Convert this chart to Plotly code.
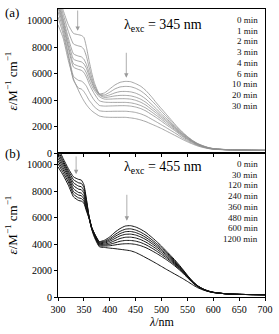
import plotly.graph_objects as go
from plotly.subplots import make_subplots

# wavelengths (nm)
WL = [300, 310, 320, 330, 340, 345, 350, 355, 360, 365, 370, 380, 390, 400, 410, 420, 430, 440, 450, 460, 470,
      480, 490, 500, 510, 520, 530, 540, 550, 560, 570, 580, 590, 600, 625, 650, 675, 700]

# panel (a): irradiation at 345 nm
A_LABELS = ["0 min", "1 min", "2 min", "3 min", "4 min", "6 min", "10 min", "20 min", "30 min"]
A0 = [12000, 10800, 9700, 9050, 8950, 8900, 8750, 8000, 7000, 6100, 5350, 4480, 4550, 4850, 5150, 5350, 5420, 5400, 5250, 5050, 4720,
      4290, 3800, 3350, 2900, 2450, 2000, 1600, 1250, 950, 720, 550, 420, 340, 260, 230, 210, 200]
A1 = [11800, 10500, 9200, 8250, 8100, 8050, 7850, 7300, 6500, 5750, 5150, 4450, 4400, 4600, 4850, 5000, 5040, 5020, 4900, 4700, 4400,
      4000, 3600, 3150, 2750, 2320, 1920, 1550, 1220, 930, 700, 540, 410, 330, 260, 230, 210, 200]
A2 = [11600, 10200, 8700, 7500, 7330, 7280, 7100, 6700, 6100, 5500, 5000, 4420, 4300, 4400, 4550, 4650, 4660, 4630, 4530, 4350, 4080,
      3720, 3350, 2950, 2600, 2200, 1840, 1480, 1180, 900, 680, 520, 400, 320, 250, 225, 210, 200]
A3 = [11400, 10000, 8400, 7100, 6950, 6900, 6750, 6400, 5850, 5350, 4900, 4380, 4200, 4250, 4320, 4360, 4360, 4330, 4230, 4070, 3830,
      3500, 3170, 2800, 2480, 2120, 1780, 1430, 1140, 880, 660, 510, 390, 320, 250, 225, 210, 200]
A4 = [11200, 9800, 8100, 6750, 6570, 6520, 6400, 6050, 5550, 5100, 4750, 4250, 4080, 4080, 4100, 4110, 4110, 4080, 3990, 3840, 3620,
      3320, 3020, 2680, 2380, 2050, 1720, 1380, 1100, 860, 650, 500, 390, 310, 250, 225, 210, 200]
A5 = [11000, 9600, 7900, 6500, 6320, 6260, 6100, 5750, 5250, 4850, 4500, 3950, 3850, 3830, 3830, 3830, 3830, 3800, 3720, 3590, 3400,
      3130, 2850, 2550, 2250, 1950, 1650, 1320, 1060, 830, 630, 490, 380, 310, 250, 225, 210, 200]
A6 = [10700, 9300, 7500, 5800, 5490, 5450, 5300, 5050, 4650, 4300, 4000, 3600, 3550, 3560, 3570, 3580, 3580, 3550, 3480, 3360, 3180,
      2930, 2680, 2400, 2120, 1850, 1570, 1260, 1010, 800, 610, 480, 370, 300, 250, 225, 210, 200]
A7 = [10300, 9000, 7300, 5500, 4900, 4850, 4650, 4350, 4000, 3750, 3500, 3200, 3150, 3150, 3160, 3160, 3160, 3130, 3070, 2960, 2800,
      2580, 2360, 2130, 1900, 1660, 1420, 1150, 930, 740, 570, 450, 350, 290, 240, 220, 210, 200]
A8 = [9700, 8700, 7000, 5600, 4700, 4300, 3950, 3650, 3400, 3200, 3050, 2800, 2720, 2700, 2700, 2700, 2700, 2660, 2600, 2500, 2370,
      2200, 2030, 1850, 1650, 1450, 1250, 1040, 850, 680, 530, 420, 340, 290, 240, 220, 210, 210]
A_SERIES = [A0, A1, A2, A3, A4, A5, A6, A7, A8]

# panel (b): irradiation at 455 nm
B_LABELS = ["0 min", "30 min", "120 min", "240 min", "360 min", "480 min", "600 min", "1200 min"]
B0 = [11300, 10480, 9720, 9090, 8900, 8850, 8500, 7400, 6100, 5300, 4850, 4200, 4300, 4550, 4900, 5180, 5370, 5400, 5300, 5120, 4880,
      4560, 4220, 3850, 3450, 3050, 2620, 2150, 1650, 1200, 850, 620, 460, 360, 240, 200, 180, 170]
B1 = [11100, 10300, 9550, 8880, 8640, 8600, 8300, 7300, 6080, 5280, 4830, 4150, 4220, 4420, 4720, 4970, 5130, 5160, 5070, 4900, 4670,
      4380, 4060, 3720, 3350, 2960, 2550, 2100, 1620, 1180, 840, 610, 460, 360, 240, 200, 180, 170]
B2 = [10900, 10150, 9400, 8650, 8390, 8350, 8050, 7150, 6060, 5260, 4800, 4100, 4150, 4320, 4580, 4800, 4940, 4960, 4880, 4720, 4500,
      4230, 3930, 3600, 3250, 2880, 2490, 2060, 1590, 1160, 830, 610, 450, 350, 240, 200, 180, 170]
B3 = [10700, 9980, 9250, 8430, 8160, 8120, 7850, 7000, 6040, 5240, 4770, 4050, 4080, 4220, 4430, 4630, 4740, 4760, 4690, 4540, 4340,
      4080, 3800, 3490, 3160, 2800, 2420, 2010, 1560, 1140, 820, 600, 450, 350, 240, 200, 180, 170]
B4 = [10500, 9800, 9080, 8200, 7910, 7870, 7620, 6850, 6020, 5220, 4730, 4000, 4000, 4100, 4270, 4430, 4520, 4530, 4470, 4340, 4150,
      3910, 3650, 3360, 3050, 2720, 2360, 1960, 1530, 1120, 800, 590, 440, 350, 240, 200, 180, 170]
B5 = [10300, 9620, 8900, 7980, 7710, 7670, 7420, 6700, 6000, 5200, 4690, 3950, 3930, 3990, 4100, 4220, 4280, 4280, 4230, 4120, 3950,
      3730, 3490, 3220, 2940, 2630, 2290, 1910, 1500, 1100, 790, 580, 440, 350, 240, 200, 180, 170]
B6 = [10100, 9420, 8700, 7780, 7500, 7460, 7250, 6600, 5980, 5180, 4650, 3880, 3860, 3880, 3940, 4000, 4030, 4030, 3980, 3880, 3730,
      3530, 3310, 3070, 2810, 2530, 2210, 1860, 1470, 1080, 780, 570, 430, 340, 240, 200, 180, 170]
B7 = [9850, 9220, 8460, 7580, 7300, 7260, 7100, 6500, 5950, 5150, 4550, 3800, 3750, 3700, 3660, 3610, 3560, 3500, 3370, 3180, 2970,
      2760, 2540, 2310, 2080, 1860, 1640, 1420, 1180, 930, 700, 540, 420, 340, 240, 200, 180, 170]
B_SERIES = [B0, B1, B2, B3, B4, B5, B6, B7]

# arrows: (x, y_tail, y_head) per panel
ARROWS_A = [(338, 10900, 9250), (432, 7700, 5700)]
ARROWS_B = [(335, 10750, 9300), (433, 7850, 5770)]

EXC_A = "345"
EXC_B = "455"
Y_TICKS = [0, 2000, 4000, 6000, 8000, 10000]
X_TICKS = [300, 350, 400, 450, 500, 550, 600, 650, 700]

FONT = "Liberation Serif"
W, H = 279, 334
ML, MR, MT, MB = 58, 14, 9, 37
PW, PH = W - ML - MR, H - MT - MB

fig = make_subplots(rows=2, cols=1, shared_xaxes=True, vertical_spacing=0)

for s in A_SERIES:
    fig.add_trace(go.Scatter(x=WL, y=s, mode="lines", line=dict(color="#8f8f8f", width=0.8, shape="spline", smoothing=0.5),
                             showlegend=False, hoverinfo="skip"), row=1, col=1)
for s in B_SERIES:
    fig.add_trace(go.Scatter(x=WL, y=s, mode="lines", line=dict(color="#111111", width=1.0, shape="spline", smoothing=0.5),
                             showlegend=False, hoverinfo="skip"), row=2, col=1)

annotations = []
for (xa, yt, yh) in ARROWS_A:
    annotations.append(dict(x=xa, y=yh, ax=xa, ay=yt, xref="x", yref="y", axref="x", ayref="y",
                            showarrow=True, arrowhead=2, arrowsize=1.1, arrowwidth=0.8, arrowcolor="#9a9a9a", text=""))
for (xa, yt, yh) in ARROWS_B:
    annotations.append(dict(x=xa, y=yh, ax=xa, ay=yt, xref="x2", yref="y2", axref="x2", ayref="y2",
                            showarrow=True, arrowhead=2, arrowsize=1.1, arrowwidth=0.8, arrowcolor="#9a9a9a", text=""))

for i, lab in enumerate(A_LABELS):
    annotations.append(dict(text=lab, x=0.976, y=0.924 - i * 0.0745, xref="x domain", yref="y domain",
                            xanchor="right", yanchor="middle", showarrow=False,
                            font=dict(family=FONT, size=9, color="#111")))
for i, lab in enumerate(B_LABELS):
    annotations.append(dict(text=lab, x=0.976, y=0.924 - i * 0.0745, xref="x2 domain", yref="y2 domain",
                            xanchor="right", yanchor="middle", showarrow=False,
                            font=dict(family=FONT, size=9, color="#111")))

annotations.append(dict(text="λ<sub>exc</sub> = " + EXC_A + " nm", x=0.507, y=0.885, xref="x domain", yref="y domain",
                        xanchor="center", yanchor="middle", showarrow=False, font=dict(family=FONT, size=14, color="#000")))
annotations.append(dict(text="λ<sub>exc</sub> = " + EXC_B + " nm", x=0.507, y=0.9, xref="x2 domain", yref="y2 domain",
                        xanchor="center", yanchor="middle", showarrow=False, font=dict(family=FONT, size=14, color="#000")))
annotations.append(dict(text="(a)", x=(12 - ML) / PW, y=(H - MB - 13) / PH, xref="paper", yref="paper",
                        xanchor="center", yanchor="middle", showarrow=False, font=dict(family=FONT, size=13, color="#000")))
annotations.append(dict(text="(b)", x=(12 - ML) / PW, y=(H - MB - 153) / PH, xref="paper", yref="paper",
                        xanchor="center", yanchor="middle", showarrow=False, font=dict(family=FONT, size=13, color="#000")))
annotations.append(dict(text="<i>λ</i>/nm", x=(162 - ML) / PW, y=(H - MB - 322) / PH, xref="paper", yref="paper",
                        xanchor="center", yanchor="middle", showarrow=False, borderpad=0,
                        font=dict(family=FONT, size=12, color="#000")))

fig.update_layout(
    width=W, height=H,
    margin=dict(l=ML, r=MR, t=MT, b=MB),
    plot_bgcolor="white", paper_bgcolor="white",
    font=dict(family=FONT, size=10, color="#000"),
    annotations=annotations,
    showlegend=False,
)

axis_common = dict(showline=True, linecolor="#000", linewidth=1, mirror=True, showgrid=False, zeroline=False,
                   ticks="outside", ticklen=3, tickcolor="#000", tickwidth=1, automargin=False,
                   tickfont=dict(family=FONT, size=10, color="#000"))

fig.update_xaxes(range=[300, 700], tickvals=X_TICKS, **axis_common)
fig.update_xaxes(showticklabels=False, row=1, col=1)

ytitle = "<i>ε</i>/M<sup>−1</sup> cm<sup>−1</sup>"
fig.update_yaxes(range=[0, 10900], tickvals=Y_TICKS, tickformat="d", **axis_common)
fig.update_yaxes(title=dict(text=ytitle, font=dict(family=FONT, size=13), standoff=6), row=1, col=1)
fig.update_yaxes(title=dict(text=ytitle, font=dict(family=FONT, size=13), standoff=6), row=2, col=1)

fig.write_html("out.html", config={"displayModeBar": False},
               post_script="document.body.style.margin='0';document.body.style.padding='0';")
